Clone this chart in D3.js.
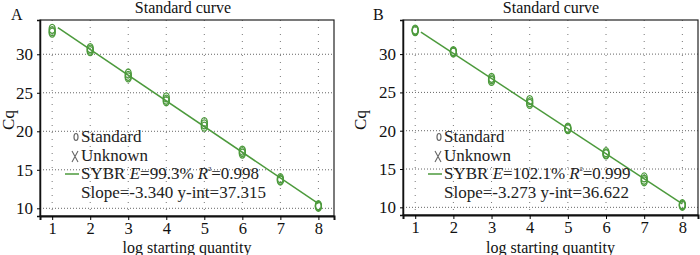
<!DOCTYPE html>
<html>
<head>
<meta charset="utf-8">
<script src="https://cdn.jsdelivr.net/npm/d3@7"></script>
<style>
  body { margin: 0; background: #fff; }
</style>
</head>
<body>
<div id="chart"></div>
<script>
// data
const logQty = [1, 2, 3, 4, 5, 6, 7, 8];
const xTicks = [1, 2, 3, 4, 5, 6, 7, 8];
const yTicks = [10, 15, 20, 25, 30];

// replicate Cq values per dilution, panel A
const cqA = [
  [33.3, 33.0, 32.8],
  [30.8, 30.6, 30.4],
  [27.5, 27.2, 27.0],
  [24.4, 24.1, 23.9],
  [21.2, 20.9, 20.6],
  [17.5, 17.3, 17.1],
  [13.9, 13.7, 13.6],
  [10.4, 10.3, 10.2]
];
// panel B
const cqB = [
  [33.2, 33.1, 33.0],
  [30.4, 30.3, 30.2],
  [26.9, 26.7, 26.5],
  [24.0, 23.7, 23.5],
  [20.4, 20.3, 20.2],
  [17.2, 17.0, 16.9],
  [13.9, 13.6, 13.4],
  [10.4, 10.3, 10.2]
];
const fitA = { slope: -3.340, yint: 37.315 };
const fitB = { slope: -3.273, yint: 36.622 };
const legendA = ["SYBR ", "E", "=99.3% ", "R", "²", "=0.998", "Slope=-3.340 y-int=37.315"];
const legendB = ["SYBR ", "E", "=102.1% ", "R", "²", "=0.999", "Slope=-3.273 y-int=36.622"];

const serif = "'Liberation Serif', 'Times New Roman', 'DejaVu Serif', serif";
const green = "#4c9a3c";
const svg = d3.select("#chart").append("svg")
  .attr("width", 700)
  .attr("height", 255)
  .style("font-family", serif);

function panel(opt) {
  const x = d3.scaleLinear().domain([0.68, 8.41]).range([opt.left, opt.right]);
  const y = d3.scaleLinear().domain([9, 34.45]).range([opt.bottom, 20]);
  const g = svg.append("g");

  // grid
  g.selectAll(".vgrid").data(xTicks).enter().append("line")
    .attr("x1", d => x(d)).attr("x2", d => x(d))
    .attr("y1", 20).attr("y2", opt.bottom)
    .attr("stroke", "#777").attr("stroke-width", 1)
    .attr("stroke-dasharray", "1,6");
  g.selectAll(".hgrid").data(yTicks).enter().append("line")
    .attr("x1", opt.left).attr("x2", opt.right)
    .attr("y1", d => y(d)).attr("y2", d => y(d))
    .attr("stroke", "#666").attr("stroke-width", 1)
    .attr("stroke-dasharray", "1,2");

  // box
  g.append("rect")
    .attr("x", opt.left).attr("y", 20)
    .attr("width", opt.right - opt.left).attr("height", opt.bottom - 20)
    .attr("fill", "none").attr("stroke", "#222").attr("stroke-width", 1.2);

  // axes
  const xAxis = g.append("g")
    .attr("transform", `translate(0,${opt.bottom})`)
    .call(d3.axisBottom(x).tickValues(xTicks).tickSize(4).tickPadding(2));
  xAxis.attr("font-family", serif).attr("font-size", 16.5);
  xAxis.select(".domain").attr("stroke", "#111").attr("stroke-width", 2);
  xAxis.selectAll("text").attr("fill", "#111");

  const yAxis = g.append("g")
    .attr("transform", `translate(${opt.left},0)`)
    .call(d3.axisLeft(y).tickValues(yTicks).tickSize(3).tickPadding(4));
  yAxis.attr("font-family", serif).attr("font-size", 17);
  yAxis.select(".domain").attr("stroke", "#111").attr("stroke-width", 1.5);
  yAxis.selectAll("text").attr("fill", "#111");

  // fit line
  const fit = opt.fit;
  g.append("line")
    .attr("x1", x(1.15)).attr("y1", y(fit.slope * 1.15 + fit.yint))
    .attr("x2", x(8)).attr("y2", y(fit.slope * 8 + fit.yint))
    .attr("stroke", green).attr("stroke-width", 1.5);

  // replicate points
  opt.cq.forEach((reps, i) => {
    g.selectAll(null).data(reps).enter().append("ellipse")
      .attr("cx", x(logQty[i])).attr("cy", d => y(d))
      .attr("rx", 3).attr("ry", 4.5)
      .attr("fill", "none").attr("stroke", green).attr("stroke-width", 1.3);
  });

  // titles
  svg.append("text").attr("x", opt.titleX).attr("y", 13)
    .attr("text-anchor", "middle").style("font-size", "16px").attr("fill", "#111")
    .text("Standard curve");
  svg.append("text").attr("x", opt.letterX).attr("y", 20)
    .style("font-size", "16px").attr("fill", "#111").text(opt.letter);
  svg.append("text")
    .attr("transform", `translate(${opt.cqX},120) rotate(-90)`)
    .attr("text-anchor", "middle").style("font-size", "17px").attr("fill", "#111")
    .text("Cq");
  svg.append("text").attr("x", (opt.left + opt.right) / 2).attr("y", 253)
    .attr("text-anchor", "middle").style("font-size", "16px").attr("fill", "#111")
    .text("log starting quantity");

  // legend
  const lx = opt.left + 41;
  const lg = svg.append("g").style("font-size", "17px").attr("fill", "#222");
  lg.append("ellipse").attr("cx", lx - 5).attr("cy", 137).attr("rx", 2).attr("ry", 3.5)
    .attr("fill", "none").attr("stroke", "#666").attr("stroke-width", 1.2);
  lg.append("text").attr("x", lx).attr("y", 142).text("Standard");
  lg.append("path").attr("d", `M${lx - 9},151 L${lx - 3},162 M${lx - 3},151 L${lx - 9},162`)
    .attr("stroke", "#666").attr("stroke-width", 1.1).attr("fill", "none");
  lg.append("text").attr("x", lx).attr("y", 161).text("Unknown");
  lg.append("line").attr("x1", lx - 16).attr("x2", lx - 2).attr("y1", 174).attr("y2", 174)
    .attr("stroke", green).attr("stroke-width", 1.5);
  const t = lg.append("text").attr("x", lx).attr("y", 179);
  const L = opt.legend;
  t.append("tspan").text(L[0]);
  t.append("tspan").style("font-style", "italic").text(L[1]);
  t.append("tspan").text(L[2]);
  t.append("tspan").style("font-style", "italic").text(L[3]);
  t.append("tspan").style("font-size", "10px").attr("dy", -5).text(L[4]);
  t.append("tspan").attr("dy", 5).text(L[5]);
  lg.append("text").attr("x", lx).attr("y", 198).text(L[6]);
}

panel({ left: 40, right: 334, bottom: 216, cq: cqA, fit: fitA, legend: legendA,
  titleX: 183, letterX: 11, letter: "A", cqX: 14 });
panel({ left: 403, right: 698, bottom: 215, cq: cqB, fit: fitB, legend: legendB,
  titleX: 551, letterX: 373, letter: "B", cqX: 366 });
</script>
</body>
</html>
